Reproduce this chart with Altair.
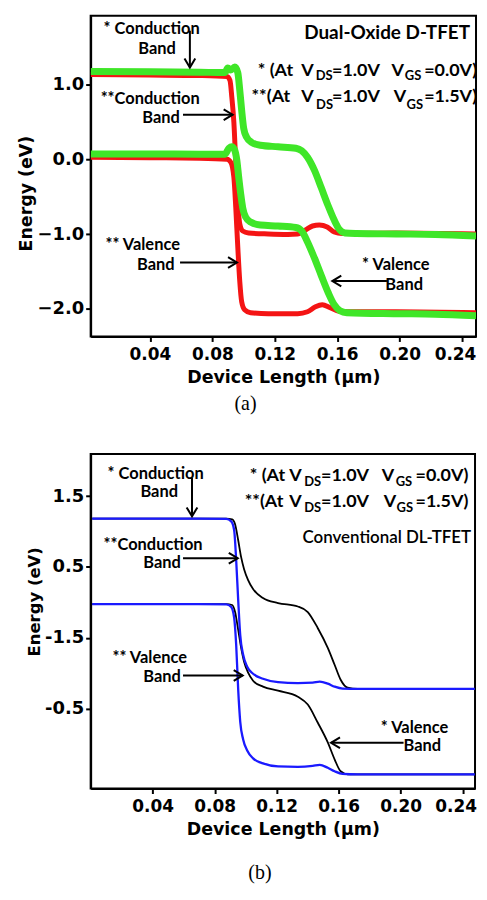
import altair as alt
import pandas as pd

# ---------------- Panel (a): Dual-Oxide D-TFET ----------------
# green = * (VGS = 0.0 V), red = ** (VGS = 1.5 V)
a_gcb_x = [0.002, 0.040, 0.0717, 0.088, 0.0899, 0.0918, 0.0944, 0.0963, 0.0976, 0.0988,
           0.1001, 0.102, 0.1051, 0.1108, 0.1221, 0.1335, 0.1373, 0.1410, 0.1454, 0.1499,
           0.1543, 0.1581, 0.1612, 0.165, 0.1725, 0.1977, 0.2229, 0.249]
a_gcb_y = [1.175, 1.171, 1.165, 1.161, 1.221, 1.195, 1.235, 1.161, 0.921, 0.655,
           0.415, 0.295, 0.228, 0.188, 0.168, 0.148, 0.115, 0.028, -0.145, -0.385,
           -0.625, -0.812, -0.932, -0.985, -0.992, -0.999, -1.005, -1.025]
a_gvb_x = [0.002, 0.040, 0.0717, 0.088, 0.0906, 0.0925, 0.0944, 0.0957, 0.0969, 0.0982,
           0.0995, 0.1013, 0.1045, 0.1108, 0.1221, 0.1335, 0.1373, 0.1410, 0.1454, 0.1499,
           0.1543, 0.1581, 0.1618, 0.1662, 0.1977, 0.2229, 0.249]
a_gvb_y = [0.072, 0.072, 0.068, 0.068, 0.148, 0.168, 0.121, -0.012, -0.239, -0.465,
           -0.652, -0.772, -0.839, -0.879, -0.892, -0.912, -0.959, -1.105, -1.319, -1.559,
           -1.785, -1.945, -2.025, -2.052, -2.065, -2.072, -2.092]
a_rcb_x = [0.002, 0.040, 0.0717, 0.0894, 0.0913, 0.0925, 0.0938, 0.0950, 0.0963, 0.0976,
           0.0995, 0.1032, 0.1158, 0.1284, 0.1347, 0.1397, 0.1442, 0.1486, 0.1536, 0.1581,
           0.1631, 0.1977, 0.249]
a_rcb_y = [1.135, 1.128, 1.121, 1.108, 1.055, 0.828, 0.495, -0.039, -0.572, -0.865,
           -0.959, -0.985, -0.999, -1.005, -0.999, -0.945, -0.892, -0.879, -0.905, -0.972,
           -0.992, -0.985, -0.999]
a_rvb_x = [0.002, 0.040, 0.0717, 0.0894, 0.0918, 0.0938, 0.0950, 0.0963, 0.0976, 0.0988,
           0.1007, 0.1045, 0.1158, 0.1347, 0.1410, 0.1461, 0.1505, 0.1555, 0.1612, 0.1725,
           0.1977, 0.249]
a_rvb_y = [0.028, 0.021, 0.015, 0.001, -0.039, -0.239, -0.639, -1.172, -1.639, -1.905,
           -2.012, -2.052, -2.065, -2.065, -2.039, -1.972, -1.945, -1.985, -2.032, -2.039,
           -2.039, -2.052]

# ---------------- Panel (b): Conventional DL-TFET ----------------
# black = * (VGS = 0.0 V), blue = ** (VGS = 1.5 V)
b_bcb_x = [0.001, 0.0374, 0.0695, 0.0875, 0.0907, 0.0926, 0.0939, 0.0952, 0.0965, 0.0984,
           0.1010, 0.1048, 0.1112, 0.1209, 0.1337, 0.1433, 0.1478, 0.1530, 0.1574, 0.1626,
           0.1723, 0.2479]
b_bcb_y = [1.182, 1.182, 1.182, 1.179, 1.144, 1.018, 0.595, 0.032, -0.460, -0.742,
           -0.911, -1.009, -1.080, -1.129, -1.143, -1.136, -1.122, -1.150, -1.192, -1.220,
           -1.224, -1.224]
b_bvb_x = [0.001, 0.0695, 0.0875, 0.0907, 0.0926, 0.0939, 0.0952, 0.0965, 0.0984, 0.1010,
           0.1048, 0.1112, 0.1209, 0.1337, 0.1433, 0.1478, 0.1530, 0.1574, 0.1626, 0.1723,
           0.2479]
b_bvb_y = [-0.024, -0.024, -0.028, -0.066, -0.221, -0.601, -1.234, -1.685, -1.938, -2.093,
           -2.205, -2.276, -2.318, -2.325, -2.311, -2.297, -2.339, -2.388, -2.424, -2.431,
           -2.431]
b_kcb_x = [0.001, 0.0875, 0.0913, 0.0932, 0.0952, 0.0971, 0.0990, 0.1016, 0.1048, 0.1112,
           0.1209, 0.1337, 0.1401, 0.1465, 0.1530, 0.1574, 0.1613, 0.1658, 0.1723, 0.2479]
b_kcb_y = [1.182, 1.182, 1.172, 1.102, 0.877, 0.638, 0.469, 0.314, 0.187, 0.061,
           -0.010, -0.059, -0.137, -0.362, -0.643, -0.882, -1.094, -1.206, -1.224, -1.224]
b_kvb_x = [0.001, 0.0875, 0.0913, 0.0932, 0.0952, 0.0971, 0.0990, 0.1016, 0.1048, 0.1112,
           0.1209, 0.1337, 0.1401, 0.1465, 0.1530, 0.1574, 0.1613, 0.1658, 0.1723, 0.2479]
b_kvb_y = [-0.024, -0.024, -0.038, -0.137, -0.390, -0.643, -0.840, -0.995, -1.108, -1.192,
           -1.248, -1.333, -1.445, -1.699, -1.980, -2.219, -2.388, -2.431, -2.431, -2.431]

# ---------------- ticks ----------------
x_ticks = [0.04, 0.08, 0.12, 0.16, 0.20, 0.24]
a_y_ticks = [1.0, 0.0, -1.0, -2.0]
b_y_ticks = [1.5, 0.5, -0.5, -1.5]
b_y_tick_labels = ["1.5", "0.5", "-1.5", "-0.5"]

# ---------------- annotations ----------------
a_note_text = ["* Conduction", "Band", "**Conduction", "Band", "** Valence", "Band", "* Valence", "Band"]
a_note_x = [0.0103, 0.0325, 0.0084, 0.0351, 0.0115, 0.0317, 0.1760, 0.1909]
a_note_y = [1.672, 1.415, 0.739, 0.482, -1.216, -1.475, -1.483, -1.749]
a_cond_text = ["* (At", "V", "=1.0V", "V", "=0.0V)", "**(At", "V", "=1.0V", "V", "=1.5V)"]
a_cond_x = [0.1091, 0.1370, 0.1567, 0.1949, 0.2158, 0.1051, 0.1370, 0.1567, 0.1962, 0.2158]
a_cond_y = [1.121, 1.121, 1.121, 1.121, 1.121, 0.761, 0.761, 0.761, 0.761, 0.761]
a_sub_text = ["DS", "GS", "DS", "GS"]
a_sub_x = [0.1462, 0.2034, 0.1465, 0.2045]
a_sub_y = [1.068, 1.068, 0.668, 0.668]
a_title_text = ["Dual-Oxide D-TFET"]
a_title_x = [0.2452]
a_title_y = [1.615]
a_arrow_x0 = [0.0656, 0.0612, 0.0593, 0.1919]
a_arrow_y0 = [1.721, 0.597, -1.381, -1.629]
a_arrow_x1 = [0.0656, 0.0930, 0.0958, 0.1569]
a_arrow_y1 = [1.228, 0.597, -1.381, -1.629]
a_arrow_dir = ["down", "right", "right", "left"]

b_note_text = ["* Conduction", "Band", "**Conduction", "Band", "** Valence", "Band", "* Valence", "Band"]
b_note_x = [0.0109, 0.0321, 0.0083, 0.0340, 0.0141, 0.0340, 0.1872, 0.2019]
b_note_y = [1.749, 1.482, 0.736, 0.483, -0.854, -1.132, -1.840, -2.107]
b_cond_text = ["* (At", "V", "=1.0V", "V", "=0.0V)", "**(At", "V", "=1.0V", "V", "=1.5V)"]
b_cond_x = [0.1026, 0.1282, 0.1487, 0.1878, 0.2096, 0.0994, 0.1282, 0.1487, 0.1891, 0.2096]
b_cond_y = [1.711, 1.711, 1.711, 1.711, 1.711, 1.346, 1.346, 1.346, 1.346, 1.346]
b_sub_text = ["DS", "GS", "DS", "GS"]
b_sub_x = [0.1378, 0.1968, 0.1378, 0.1974]
b_sub_y = [1.651, 1.651, 1.275, 1.275]
b_title_text = ["Conventional DL-TFET"]
b_title_x = [0.2455]
b_title_y = [0.835]
b_arrow_x0 = [0.0654, 0.0596, 0.0596, 0.2019]
b_arrow_y0 = [1.763, 0.623, -1.033, -1.985]
b_arrow_x1 = [0.0654, 0.0949, 0.0981, 0.1551]
b_arrow_y1 = [1.215, 0.623, -1.033, -1.985]
b_arrow_dir = ["down", "right", "right", "left"]

TICK_FONT = "DejaVu Sans"
TXT_FONT = "Lato"
HEADS = {"right": "M-1,-0.6L0,0L-1,0.6", "left": "M1,-0.6L0,0L1,0.6", "down": "M-0.6,-1L0,0L0.6,-1"}


def x_axis():
    return alt.Axis(values=x_ticks, format=".2f", title="Device Length (μm)", grid=False,
                    labelFlush=False, labelFont=TICK_FONT, labelFontSize=17, labelFontWeight="bold",
                    labelColor="black", labelPadding=5,
                    labelOffset={"condition": {"test": "datum.value > 0.23", "value": -7}, "value": 0},
                    tickColor="black", tickWidth=2, tickSize=5,
                    domainColor="black", domainWidth=2, titleFont=TICK_FONT, titleFontSize=17.5,
                    titleFontWeight="bold", titleColor="black", titlePadding=6)


def y_axis(values, title_x, title_y, size, label_expr=None):
    kw = dict(values=values, format=".1f", title="Energy (eV)", grid=False, labelFlush=False,
              labelFont=TICK_FONT, labelFontSize=18, labelFontWeight="bold", labelColor="black",
              labelPadding=2, tickColor="black", tickWidth=2, tickSize=5, domainColor="black",
              domainWidth=2, titleFont=TICK_FONT, titleFontSize=size, titleFontWeight="bold",
              titleColor="black", titleX=title_x, titleY=title_y, titleBaseline="middle",
              titleAngle=270)
    if label_expr:
        kw["labelExpr"] = label_expr
    return alt.Axis(**kw)


def panel(lines, notes, conds, subs, titles, arrows, xs, ys, xa, ya):
    def enc(ch):
        return ch.encode(x=alt.X("x:Q", scale=xs, axis=xa), y=alt.Y("y:Q", scale=ys, axis=ya))

    layers = []
    for (lx, ly, color, width) in lines:
        df = pd.DataFrame({"x": lx, "y": ly})
        layers.append(enc(alt.Chart(df).mark_line(color=color, strokeWidth=width,
                                                  interpolate="monotone", clip=True)))
    for (t, x, y, size, align, weight) in [notes, conds, subs, titles]:
        df = pd.DataFrame({"x": x, "y": y, "t": t})
        layers.append(enc(alt.Chart(df).mark_text(font=TXT_FONT, fontSize=size, fontWeight=weight,
                                                  align=align, baseline="alphabetic",
                                                  color="black")).encode(text="t:N"))
    x0, y0, x1, y1, dirs = arrows
    adf = pd.DataFrame({"x": x0, "y": y0, "x2": x1, "y2": y1})
    layers.append(alt.Chart(adf).mark_rule(color="black", strokeWidth=2).encode(
        x=alt.X("x:Q", scale=xs, axis=xa), y=alt.Y("y:Q", scale=ys, axis=ya),
        x2="x2:Q", y2="y2:Q"))
    for d, path in HEADS.items():
        hdf = pd.DataFrame({"x": [a for a, k in zip(x1, dirs) if k == d],
                            "y": [b for b, k in zip(y1, dirs) if k == d]})
        if len(hdf):
            layers.append(enc(alt.Chart(hdf).mark_point(shape=path, size=324, filled=False,
                                                        stroke="black", strokeWidth=2,
                                                        opacity=1)))
    return alt.layer(*layers)


a_xs = alt.Scale(domain=[0.002, 0.249], nice=False, zero=False)
a_ys = alt.Scale(domain=[-2.37, 1.92], nice=False, zero=False)
b_xs = alt.Scale(domain=[0.0, 0.248], nice=False, zero=False)
b_ys = alt.Scale(domain=[-2.632, 2.097], nice=False, zero=False)

b_expr = ""
for v, lab in zip(b_y_ticks, b_y_tick_labels):
    b_expr += f"datum.value == {v} ? '{lab}' : "
b_expr += "format(datum.value, '.1f')"

top = panel(
    lines=[(a_rcb_x, a_rcb_y, "#f41414", 5), (a_rvb_x, a_rvb_y, "#f41414", 5),
           (a_gcb_x, a_gcb_y, "#3fe628", 7), (a_gvb_x, a_gvb_y, "#3fe628", 7)],
    notes=(a_note_text, a_note_x, a_note_y, 16.5, "left", "bold"),
    conds=(a_cond_text, a_cond_x, a_cond_y, 18, "left", "bold"),
    subs=(a_sub_text, a_sub_x, a_sub_y, 13, "left", "bold"),
    titles=(a_title_text, a_title_x, a_title_y, 19, "right", "bold"),
    arrows=(a_arrow_x0, a_arrow_y0, a_arrow_x1, a_arrow_y1, a_arrow_dir),
    xs=a_xs, ys=a_ys, xa=x_axis(), ya=y_axis(a_y_ticks, -64, 178, 17.5),
).properties(width=387, height=322,
             title=alt.TitleParams("(a)", orient="bottom", font="Liberation Serif", fontSize=20,
                                   fontWeight="normal", color="black", offset=8, dx=-38))

bottom = panel(
    lines=[(b_kcb_x, b_kcb_y, "black", 1.8), (b_kvb_x, b_kvb_y, "black", 1.8),
           (b_bcb_x, b_bcb_y, "#1a1aff", 2.3), (b_bvb_x, b_bvb_y, "#1a1aff", 2.3)],
    notes=(b_note_text, b_note_x, b_note_y, 16.5, "left", "bold"),
    conds=(b_cond_text, b_cond_x, b_cond_y, 18, "left", "bold"),
    subs=(b_sub_text, b_sub_x, b_sub_y, 13, "left", "bold"),
    titles=(b_title_text, b_title_x, b_title_y, 17, "right", 600),
    arrows=(b_arrow_x0, b_arrow_y0, b_arrow_x1, b_arrow_y1, b_arrow_dir),
    xs=b_xs, ys=b_ys, xa=x_axis(), ya=y_axis(b_y_ticks, -56, 148, 16.5, b_expr),
).properties(width=386, height=336,
             title=alt.TitleParams("(b)", orient="bottom", font="Liberation Serif", fontSize=20,
                                   fontWeight="normal", color="black", offset=25, dx=-23))

chart = alt.vconcat(top, bottom, spacing=38).properties(
    padding={"left": 9, "top": 5, "right": 0, "bottom": 0}
).configure_view(stroke="black", strokeWidth=2)

chart.save("out.html", embed_options={"renderer": "svg", "actions": False})
